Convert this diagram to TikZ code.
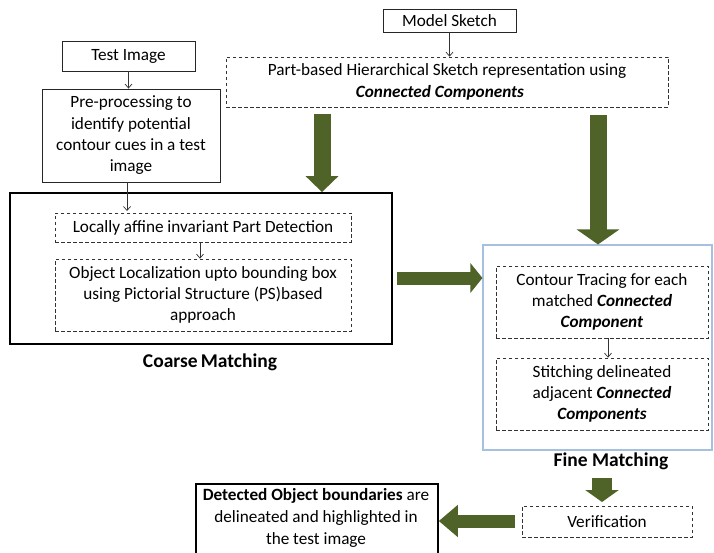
\documentclass[tikz,border=0pt]{standalone}
\usepackage{fontspec}
\setmainfont{Carlito}
\usetikzlibrary{arrows.meta}
\definecolor{olive}{HTML}{4F6228}
\definecolor{lblue}{HTML}{A7C0E0}
\begin{document}
\begin{tikzpicture}[x=1pt,y=-1pt,
  txt/.style={font=\fontsize{17.2}{21.3}\selectfont, align=center, inner sep=0pt},
  solidbox/.style={draw=black!85, line width=0.9pt, inner sep=0pt, txt},
  dashbox/.style={draw=black!80, dashed, dash pattern=on 3.5pt off 2.5pt, line width=0.7pt, inner sep=0pt, txt},
  thick box/.style={draw=black, line width=1.8pt, inner sep=0pt},
  thin arrow/.style={draw=black!80, line width=0.7pt, -{Straight Barb[length=4pt,width=7pt]}},
  biglabel/.style={font=\fontsize{19.5}{23}\selectfont\bfseries, inner sep=0pt}
]
\useasboundingbox (0,0) rectangle (714,553);
\fill[white] (0,0) rectangle (714,553);

% Outer group boxes
\node[thick box, minimum width=382pt, minimum height=151pt] (coarse) at (201,268.5) {};
\node[draw=lblue, line width=1.1pt, inner sep=0pt, minimum width=229pt, minimum height=205pt] (fine) at (597.5,347.5) {};

% Top boxes
\node[solidbox, minimum width=133pt, minimum height=30pt] (test) at (128.5,56) {Test Image};
\node[solidbox, minimum width=178pt, minimum height=93pt] (pre) at (131,135.5) {Pre-processing to\\identify potential\\contour cues in a test\\image};
\node[solidbox, minimum width=133pt, minimum height=23pt] (model) at (449.5,20.5) {Model Sketch};
\node[dashbox, minimum width=442pt, minimum height=50pt] (part) at (447,82) {Part-based Hierarchical Sketch representation using\\\textbf{\textit{Connected Components}}\hspace*{14pt}};

% Coarse inner boxes
\node[dashbox, minimum width=296pt, minimum height=29pt] (loc) at (203,227.5) {Locally affine invariant Part Detection};
\node[dashbox, minimum width=296pt, minimum height=72pt] (obj) at (203,295) {Object Localization upto bounding box\\using Pictorial Structure (PS)based\\approach};
\node[biglabel] (coarselbl) at (210,362) {Coarse\,Matching};

% Fine inner boxes
\node[dashbox, minimum width=212pt, minimum height=72pt] (contour) at (602,302) {Contour Tracing for each\\matched \textbf{\textit{Connected}}\\\textbf{\textit{Component}}};
\node[dashbox, minimum width=212pt, minimum height=72pt] (stitch) at (602,394) {Stitching delineated\\adjacent \textbf{\textit{Connected}}\\\textbf{\textit{Components}}};
\node[biglabel] (finelbl) at (611,461) {Fine Matching};

% Bottom boxes
\node[dashbox, minimum width=170pt, minimum height=31pt] (verif) at (607,521.5) {Verification};
\node[draw=black, line width=1.8pt, inner sep=0pt, minimum width=242pt, minimum height=90pt, anchor=north west] (detect) at (195,483) {};
\node[font=\fontsize{17.2}{22.3}\selectfont, align=center, inner sep=0pt, anchor=north] (detecttxt) at (316,488) {\textbf{Detected Object boundaries} are\\delineated and highlighted in\\the test image};

% Thin arrows
\draw[thin arrow] (test.south) -- (test.south |- pre.north);
\draw[thin arrow] (model.south) -- (model.south |- part.north);
\draw[thin arrow] (pre.south -| 127,0) -- (127,211);
\draw[thin arrow] (loc.south -| 200,0) -- (obj.north -| 200,0);
\draw[thin arrow] (contour.south -| 608,0) -- (stitch.north -| 608,0);

% Big green arrows
\coordinate (g1s) at (322,114);
\coordinate (g1e) at (322,193);
\draw[olive, line width=17pt, -{Triangle[length=16pt,width=32pt]}] (g1s) -- (coarse.north -| g1e);
\coordinate (g2s) at (598,115);
\draw[olive, line width=17pt, -{Triangle[length=15pt,width=42pt]}] (g2s) -- (fine.north -| g2s);
\coordinate (g3s) at (397,278);
\draw[olive, line width=13pt, -{Triangle[length=12pt,width=29pt]}] (g3s) -- (fine.west |- g3s);
\coordinate (g4s) at (602,478);
\draw[olive, line width=20pt, -{Triangle[length=12pt,width=33pt]}] (g4s) -- (602,502);
\coordinate (g5s) at (515,521);
\draw[olive, line width=13pt, -{Triangle[length=19pt,width=31pt]}] (g5s) -- (detect.east |- g5s);
\end{tikzpicture}
\end{document}
